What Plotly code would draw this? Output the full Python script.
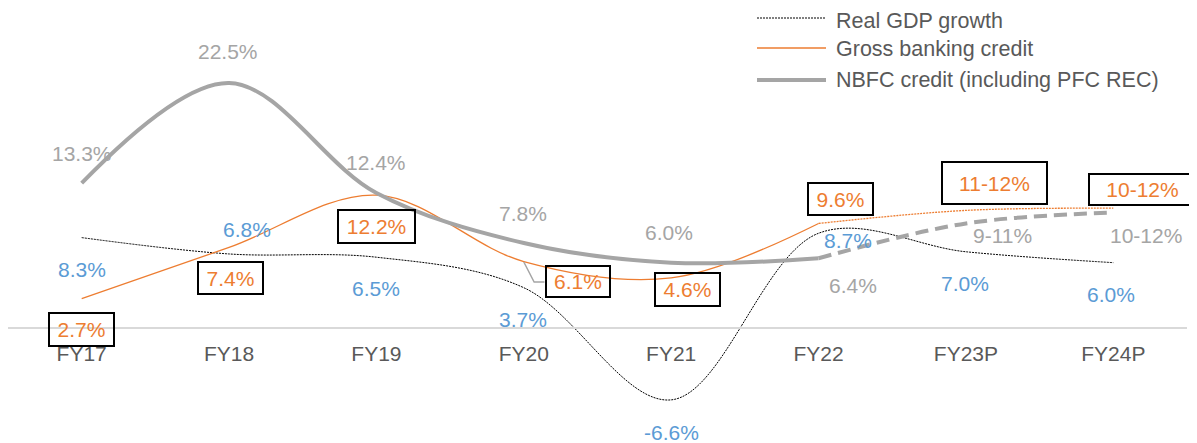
import plotly.graph_objects as go

years = ["FY17", "FY18", "FY19", "FY20", "FY21", "FY22", "FY23P", "FY24P"]
gdp_growth = [8.3, 6.8, 6.5, 3.7, -6.6, 8.7, 7.0, 6.0]
bank_credit = [2.7, 7.4, 12.2, 6.1, 4.6, 9.6, 10.8, 11.0]
nbfc_credit = [13.3, 22.5, 12.4, 7.8, 6.0, 6.4, 9.6, 10.6]

gdp_labels = ["8.3%", "6.8%", "6.5%", "3.7%", "-6.6%", "8.7%", "7.0%", "6.0%"]
bank_labels = ["2.7%", "7.4%", "12.2%", "6.1%", "4.6%", "9.6%", "11-12%", "10-12%"]
nbfc_labels = ["13.3%", "22.5%", "12.4%", "7.8%", "6.0%", "6.4%", "9-11%", "10-12%"]

series_names = ["Real GDP growth", "Gross banking credit", "NBFC credit (including PFC REC)"]

LAST_ACTUAL = 5  # FY22, projections after that

GDP_COLOR = "#000000"
BANK_COLOR = "#ed7d31"
NBFC_COLOR = "#a5a5a5"
BLUE = "#5b9bd5"
TEXT = "#595959"
FONT = "Arial, 'Liberation Sans', sans-serif"

# page body has an 8px margin, so the figure is drawn 8px smaller
W, H = 1189, 435
PLOT_W = W - 10

# label offsets in px (dx, dy up) relative to the data point, like excel's moved labels
gdp_off = [(0, -32), (18, 24), (0, -31), (-1, -32), (0, -33), (29, -7), (-1, -32), (-2, -32)]
nbfc_off = [(0, 30), (-1, 31), (0, 30), (-1, 30), (-2, 30), (34, -27), (37, -12), (33, -23)]
bank_off = [(0, -31), (1, -31), (0, -31), (54, -20), (16, -12), (22, 24), (29, 27), (29, 19)]
bank_box = [(63, 31), (63, 30), (75, 31), (62, 29), (63, 31), (63, 30), (103, 40), (105, 29)]

fig = go.Figure()

fig.add_trace(go.Scatter(
    x=years, y=gdp_growth, mode="lines", name=series_names[0], showlegend=False,
    line=dict(color=GDP_COLOR, width=1, dash="2px,1px", shape="spline", smoothing=1),
))
fig.add_trace(go.Scatter(
    x=years[:LAST_ACTUAL + 1], y=bank_credit[:LAST_ACTUAL + 1], mode="lines", name=series_names[1],
    showlegend=False, line=dict(color=BANK_COLOR, width=1.3, shape="spline", smoothing=1),
))
fig.add_trace(go.Scatter(
    x=years[LAST_ACTUAL:], y=bank_credit[LAST_ACTUAL:], mode="lines", name=series_names[1], showlegend=False,
    line=dict(color=BANK_COLOR, width=1.3, dash="2px,1px", shape="spline", smoothing=1),
))
fig.add_trace(go.Scatter(
    x=years[:LAST_ACTUAL + 1], y=nbfc_credit[:LAST_ACTUAL + 1], mode="lines", name=series_names[2],
    showlegend=False, line=dict(color=NBFC_COLOR, width=4, shape="spline", smoothing=1),
))
fig.add_trace(go.Scatter(
    x=years[LAST_ACTUAL:], y=nbfc_credit[LAST_ACTUAL:], mode="lines", name=series_names[2], showlegend=False,
    line=dict(color=NBFC_COLOR, width=4, dash="13px,7px", shape="spline", smoothing=1),
))

for i, yr in enumerate(years):
    dx, dy = nbfc_off[i]
    fig.add_annotation(x=yr, y=nbfc_credit[i], text=nbfc_labels[i], showarrow=False,
                       xshift=dx, yshift=dy, font=dict(color=NBFC_COLOR, size=21))
    dx, dy = gdp_off[i]
    fig.add_annotation(x=yr, y=gdp_growth[i], text=gdp_labels[i], showarrow=False,
                       xshift=dx, yshift=dy, font=dict(color=BLUE, size=21))
    dx, dy = bank_off[i]
    w, h = bank_box[i]
    fig.add_annotation(x=yr, y=bank_credit[i], text=bank_labels[i], showarrow=False,
                       xshift=dx, yshift=dy, width=w, height=h, borderpad=0,
                       bordercolor="#000000", borderwidth=2, bgcolor="rgba(255,255,255,0)",
                       font=dict(color=BANK_COLOR, size=21))

# leader line for the moved FY20 banking label
fig.add_shape(type="path", xref="x", yref="y",
              path="M 3.0,6.06 L 3.07,4.22 L 3.14,4.22",
              line=dict(color=NBFC_COLOR, width=1.5))

# legend drawn by hand (excel style long line samples)
legend_styles = [
    dict(color=GDP_COLOR, width=1, dash="2px,1px"),
    dict(color=BANK_COLOR, width=1.3),
    dict(color=NBFC_COLOR, width=4),
]
legend_rows = [(10, 13), (40, 41), (72, 72)]  # (line y, text y) in px from the top
for name, style, (ly, ty) in zip(series_names, legend_styles, legend_rows):
    fig.add_shape(type="line", xref="paper", yref="paper",
                  x0=749 / PLOT_W, x1=818 / PLOT_W, y0=1 - ly / H, y1=1 - ly / H, line=style)
    fig.add_annotation(xref="paper", yref="paper", x=826 / PLOT_W, y=1 - ty / H, text=name,
                       showarrow=False, xanchor="left", yanchor="middle",
                       font=dict(color=TEXT, size=21.5))

fig.update_xaxes(
    type="category", range=[-0.5, 7.5], anchor="free", position=115 / H,
    showline=True, linecolor="#d9d9d9", linewidth=2, showgrid=False, zeroline=False,
    ticks="outside", ticklen=7, tickcolor="rgba(0,0,0,0)",
    tickfont=dict(color=TEXT, size=21),
)
fig.update_yaxes(visible=False, range=[-115 / 10.89, 320 / 10.89], showgrid=False, zeroline=False)

fig.update_layout(
    width=W,
    height=H,
    margin=dict(l=0, r=10, t=0, b=0),
    paper_bgcolor="white",
    plot_bgcolor="white",
    font=dict(family=FONT, color=TEXT, size=21),
    hovermode=False,
    showlegend=False,
)

fig.write_html("out.html")
